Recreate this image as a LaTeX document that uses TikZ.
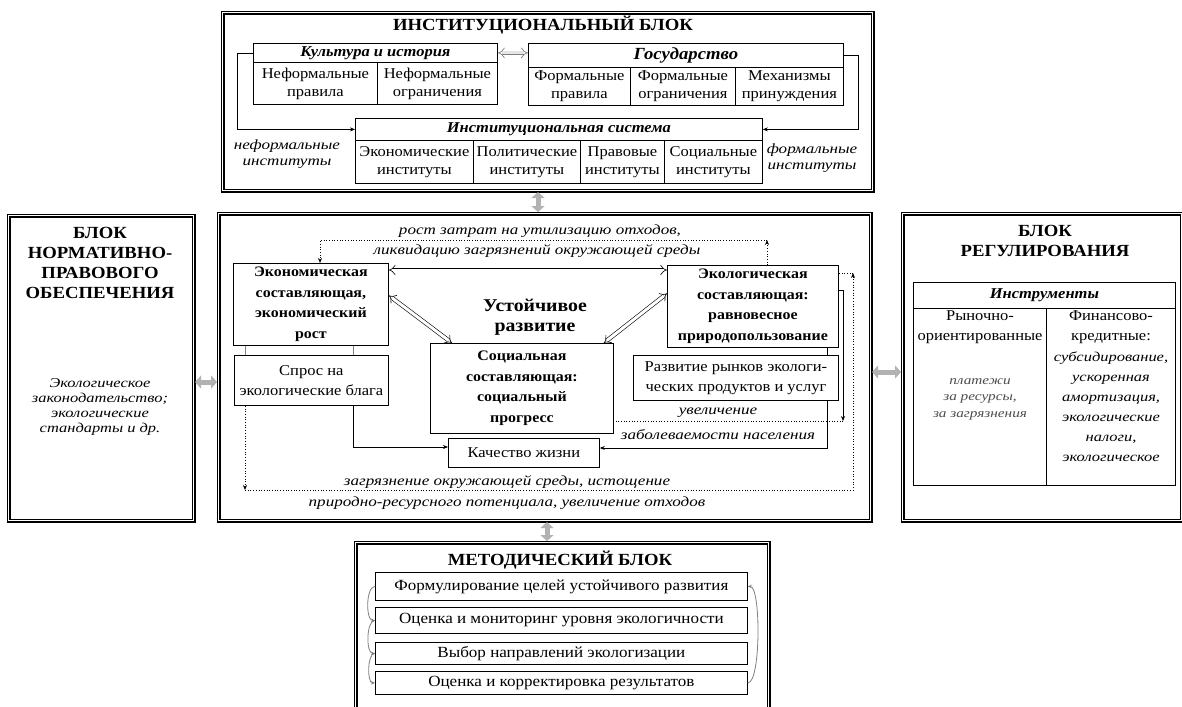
\documentclass[tikz,border=0pt]{standalone}
\usepackage{fontspec}
\setmainfont{Liberation Serif}[FakeStretch=1.1]
\newfontfamily\itfam{Liberation Serif}[FakeStretch=1.22]
\usetikzlibrary{arrows.meta,calc}
\newcommand\myfs[2]{\fontsize{#1}{#2}\selectfont}
\newcommand\bx[7]{\node[#6, anchor=north west, minimum width={(#4)-(#2)}, minimum height={(#5)-(#3)}] (#1) at (#2,#3) {#7};}
\begin{document}
\begin{tikzpicture}[x=1pt,y=-1pt,
  blk/.style={draw, line width=1.1pt, double distance=1.8pt, inner sep=0pt},
  cell/.style={draw, line width=0.8pt, inner sep=0pt, align=center, font=\myfs{15}{18}},
  hdr/.style={cell, font=\myfs{15}{16}\bfseries\itshape},
  comp/.style={draw, line width=0.8pt, inner sep=0pt, align=center, font=\myfs{14.5}{20.5}\bfseries},
  plain/.style={draw, line width=0.8pt, inner sep=0pt, align=center, font=\myfs{15}{20}},
  row/.style={draw, line width=0.8pt, inner sep=0pt, align=center, font=\myfs{15.5}{16}},
  lab/.style={inner sep=0pt, align=center, font=\itfam\myfs{14}{16.5}\itshape},
  ttl/.style={inner sep=0pt, align=center, font=\myfs{17}{20}\bfseries},
  conn/.style={line width=0.7pt, -{Stealth[length=5pt,width=4pt]}},
  dots/.style={line width=0.7pt, dotted},
  bigarr/.style={double, double distance=3pt, line width=0.6pt, {Implies}-{Implies}},
  smallarr/.style={draw=gray, double=gray!20, double distance=3pt, line width=0.7pt, {Implies}-{Implies}},
  garr/.style={gray!60, line width=5pt, shorten >=1pt, shorten <=1pt, {Triangle[length=6pt,width=13pt]}-{Triangle[length=6pt,width=13pt]}},
  curv/.style={gray, line width=0.8pt, -{Stealth[length=4pt,width=3.5pt]}}]
\useasboundingbox (0,0) rectangle (1182,706);
\fill[white] (0,0) rectangle (1182,706);
% ---------- top block
\bx{topblk}{222}{12}{872}{190}{blk}{}
\node[ttl] (toptitle) at (543,25) {ИНСТИТУЦИОНАЛЬНЫЙ БЛОК};
\bx{culthdr}{253}{43}{497}{62}{hdr}{Культура и история}
\bx{cult1}{253}{62}{377}{104}{cell}{Неформальные\\правила}
\bx{cult2}{377}{62}{497}{104}{cell}{Неформальные\\ограничения}
\bx{statehdr}{528}{43}{843}{67}{hdr, font=\myfs{17}{18}\bfseries\itshape}{Государство}
\bx{st1}{528}{67}{630}{105}{cell}{Формальные\\правила}
\bx{st2}{630}{67}{735}{105}{cell}{Формальные\\ограничения}
\bx{st3}{735}{67}{843}{105}{cell}{Механизмы\\принуждения}
\bx{inshdr}{355}{118}{762}{140}{hdr}{Институциональная система}
\bx{in1}{355}{140}{473}{183}{cell}{Экономические\\институты}
\bx{in2}{473}{140}{580}{183}{cell}{Политические\\институты}
\bx{in3}{580}{140}{664}{183}{cell}{Правовые\\институты}
\bx{in4}{664}{140}{762}{183}{cell}{Социальные\\институты}
\node[lab] (infl) at (287,154) {неформальные\\институты};
\node[lab] (fl) at (812,158) {формальные\\институты};
\draw[conn] (culthdr.west) -- ++(-16,0) |- (inshdr.west);
\draw[conn] (statehdr.east) -- ++(15,0) |- (inshdr.east);
\draw[smallarr] (culthdr.east) -- (statehdr.west |- culthdr.east);
% ---------- left block
\bx{leftblk}{8}{215}{193}{520}{blk}{}
\node[ttl] (lt) at (100,263) {БЛОК\\НОРМАТИВНО-\\ПРАВОВОГО\\ОБЕСПЕЧЕНИЯ};
\node[lab, font=\itfam\myfs{13.5}{15}\itshape] (lx) at (100,407) {Экологическое\\законодательство;\\экологические\\стандарты и др.};
% ---------- right block
\bx{rightblk}{902}{213}{1181}{520}{blk}{}
\node[ttl] (rt) at (1045,241) {БЛОК\\РЕГУЛИРОВАНИЯ};
\bx{insthdr}{913}{282}{1175}{308}{hdr}{Инструменты}
\bx{rcl}{913}{308}{1046}{485}{cell}{}
\bx{rcr}{1046}{308}{1175}{485}{cell}{}
\node[inner sep=0pt, align=center, font=\myfs{15}{20}] (rclt) at (980,327) {Рыночно-\\ориентированные};
\node[lab, font=\itfam\myfs{12.5}{16.5}\itshape, text=black!70] (rcli) at (980,399) {платежи\\за ресурсы,\\за загрязнения};
\node[inner sep=0pt, align=center, font=\myfs{15}{20}] (rcrt) at (1111,327) {Финансово-\\кредитные:};
\node[lab, font=\itfam\myfs{13.5}{20}\itshape] (rcri) at (1111,407) {субсидирование,\\ускоренная\\амортизация,\\экологические\\налоги,\\экологическое};
% ---------- center block
\bx{cenblk}{218}{213}{870}{520}{blk}{}
\bx{econ}{233}{263}{388}{345}{comp}{Экономическая\\составляющая,\\экономический\\рост}
\bx{ecol}{667}{265}{838}{347}{comp}{Экологическая\\составляющая:\\равновесное\\природопользование}
\node[ttl, font=\myfs{18}{20}\bfseries] (ur) at (535,317) {Устойчивое\\развитие};
\bx{social}{430}{343}{613}{433}{comp}{Социальная\\составляющая:\\социальный\\прогресс}
\bx{spros}{234}{355}{388}{405}{plain}{Спрос на\\экологические блага}
\bx{kach}{448}{438}{599}{467}{plain}{Качество жизни}
\bx{razv}{633}{355}{838}{400}{plain}{Развитие рынков экологи-\\ческих продуктов и услуг}
\node[lab] (l1) at (540,231) {рост затрат на утилизацию отходов,};
\node[lab] (l2) at (537,251) {ликвидацию загрязнений окружающей среды};
\node[lab] (l3) at (718,413) {увеличение};
\node[lab] (l4) at (718,435) {заболеваемости населения};
\node[lab] (l5) at (507,482) {загрязнение окружающей среды, истощение};
\node[lab] (l6) at (507,503) {природно-ресурсного потенциала, увеличение отходов};
% coordinates for connectors
\coordinate (tl) at (320,240);
\coordinate (tr) at (767,240);
\coordinate (bl) at (245,490);
\coordinate (br) at (853,490);
\coordinate (brt) at (853,273);
\coordinate (rv) at (843,290);
\coordinate (rvb) at (843,421);
\coordinate (rd) at (827,448);
\coordinate (sd) at (353,447);
\coordinate (sx) at (245,0);
% connectors
\draw[dots,-{Stealth[length=5pt,width=4pt]}] (ecol.north -| tr) -- (tr);
\draw[dots,-{Stealth[length=5pt,width=4pt]}] (tr) -- (tl) -- (econ.north -| tl);
\draw[gray, line width=0.6pt] (econ.south -| sx) -- (spros.north -| sx);
\draw[gray, line width=0.6pt] (econ.south -| sd) -- (spros.north -| sd);
\draw[conn] (spros.south -| sd) -- (sd) -- (kach.west |- sd);
\draw[line width=0.6pt] (ecol.south -| rd) -- (razv.north -| rd);
\draw[conn] (razv.south -| rd) -- (rd) -- (kach.east |- rd);
\draw[conn] (ecol.east |- rv) -- (rv) -- (rvb);
\draw[dots] (rvb) -- (social.east |- rvb);
\draw[dots,-{Stealth[length=5pt,width=4pt]}] (spros.south -| bl) -- (bl);
\draw[dots,-{Stealth[length=5pt,width=4pt]}] (bl) -- (br) -- (brt);
\draw[dots] (brt) -- (ecol.east |- brt);
\draw[bigarr] ($(econ.north east)+(0,7)$) -- ($(ecol.north west)+(0,5)$);
\draw[bigarr] ($(econ.east)+(0,-9)$) -- ($(social.north west)+(22,0)$);
\draw[bigarr] ($(ecol.west)+(0,-13)$) -- ($(social.north east)+(-10,0)$);
% ---------- bottom block
\bx{botblk}{355}{542}{768}{725}{blk}{}
\node[ttl] (bt) at (560,560) {МЕТОДИЧЕСКИЙ БЛОК};
\bx{r1}{375}{572}{747}{600}{row}{Формулирование целей устойчивого развития}
\bx{r2}{375}{607}{747}{633}{row}{Оценка и мониторинг уровня экологичности}
\bx{r3}{375}{642}{747}{664}{row}{Выбор направлений экологизации}
\bx{r4}{375}{671}{747}{694}{row}{Оценка и корректировка результатов}
\draw[curv] (r1.west) to[out=180,in=180,looseness=0.7] (r2.west);
\draw[curv] (r2.west) to[out=180,in=180,looseness=0.7] (r3.west);
\draw[curv] (r3.west) to[out=180,in=180,looseness=0.7] (r4.west);
\draw[curv] (r4.east) to[out=0,in=0,looseness=0.35] (r1.east);
% ---------- gray block arrows
\coordinate (ga1) at (538,0);
\coordinate (ga2) at (0,382);
\coordinate (ga3) at (0,372);
\coordinate (ga4) at (547,0);
\draw[garr] (topblk.south -| ga1) -- (cenblk.north -| ga1);
\draw[garr] (leftblk.east |- ga2) -- (cenblk.west |- ga2);
\draw[garr] (cenblk.east |- ga3) -- (rightblk.west |- ga3);
\draw[garr] (cenblk.south -| ga4) -- (botblk.north -| ga4);
\end{tikzpicture}
\end{document}
